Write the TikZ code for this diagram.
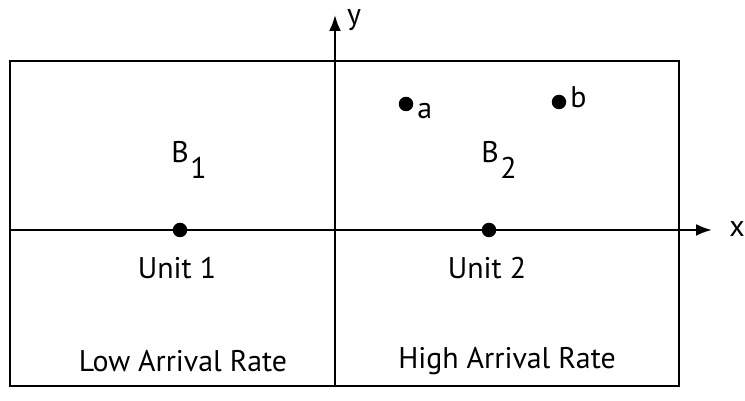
\documentclass[tikz,border=0pt]{standalone}
\usepackage{fontspec}
\setmainfont{PT Sans}
\usetikzlibrary{arrows.meta,positioning}
\newcommand{\blk}[1]{B\kern1pt\raisebox{-1.1ex}{#1}}
\begin{document}
\begin{tikzpicture}[
    x=0.2mm, y=-0.2mm,
    axisline/.style={line width=1.3pt, -{Latex[length=3.2mm, width=2.4mm]}},
    sitedot/.style={circle, fill=black, inner sep=0pt, minimum size=2.9mm},
    celllabel/.style={font=\fontsize{17}{19}\selectfont, inner sep=1pt}
]
\useasboundingbox (0,0) rectangle (745,401);
\draw[line width=1.3pt] (10,61) rectangle (679,386);

% axes
\coordinate (xstart) at (10,230);
\coordinate (xend) at (712,230);
\coordinate (ystart) at (335,386);
\coordinate (yend) at (335,15);
\draw[axisline] (xstart) -- (xend);
\draw[axisline] (ystart) -- (yend);
\node[celllabel] (xlab) at (737,229) {x};
\node[celllabel] (ylab) at (354,20) {y};

% units and points
\node[sitedot] (unit1) at (180,230) {};
\node[sitedot] (unit2) at (489,230) {};
\node[sitedot] (pta) at (406,104) {};
\node[sitedot] (ptb) at (559,102) {};
\node[celllabel, right=1pt of pta, yshift=-1.5mm] (labela) {a};
\node[celllabel, right=1pt of ptb, yshift=1mm] (labelb) {b};

\node[celllabel] (blk1) at (189,160) {\blk{1}};
\node[celllabel] (blk2) at (499,160) {\blk{2}};
\node[celllabel] (name1) at (177,268) {Unit 1};
\node[celllabel] (name2) at (487,268) {Unit 2};
\node[celllabel] (rate1) at (183,361) {Low Arrival Rate};
\node[celllabel] (rate2) at (507,361) {High Arrival Rate};
\end{tikzpicture}
\end{document}
